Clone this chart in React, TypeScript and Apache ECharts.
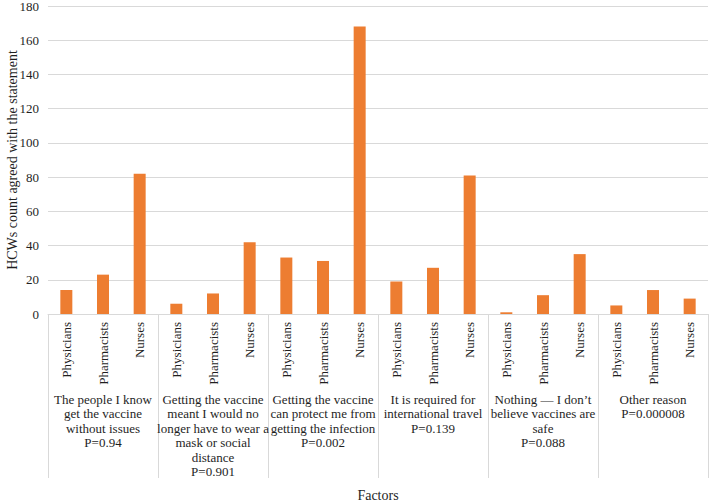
import React, { useEffect, useRef } from "react";
import * as echarts from "echarts";

const roles = ["Physicians", "Pharmacists", "Nurses"];
const groupLabels = [
  "The people I know\nget the vaccine\nwithout issues",
  "Getting the vaccine\nmeant I would no\nlonger have to wear a\nmask or social\ndistance",
  "Getting the vaccine\ncan protect me from\ngetting the infection",
  "It is required for\ninternational travel",
  "Nothing — I don’t\nbelieve vaccines are\nsafe",
  "Other reason",
];
const pValues = ["P=0.94", "P=0.901", "P=0.002", "P=0.139", "P=0.088", "P=0.000008"];
const physicians = [14, 6, 33, 19, 1, 5];
const pharmacists = [23, 12, 31, 27, 11, 14];
const nurses = [82, 42, 168, 81, 35, 9];
const yTicks = { min: 0, max: 180, interval: 20 };

export default function App() {
  const ref = useRef<HTMLDivElement>(null);
  useEffect(() => {
    document.body.style.margin = "0";
    const chart = echarts.init(ref.current!, null, { renderer: "svg" });
    const cats: string[] = [];
    const vals: number[] = [];
    groupLabels.forEach((_, i) => {
      cats.push(...roles);
      vals.push(physicians[i], pharmacists[i], nurses[i]);
    });
    const groupCats = groupLabels.map((g, i) => g + "\n" + pValues[i]);
    const font = "'Liberation Serif', 'Times New Roman', serif";
    const textColor = "#1f1f1f";
    chart.setOption({
      animation: false,
      textStyle: { fontFamily: font },
      grid: {
        left: 48,
        right: 1,
        top: 6,
        bottom: 189,
        containLabel: false,
        outerBoundsMode: "none",
      },
      xAxis: [
        {
          type: "category",
          data: cats,
          position: "bottom",
          axisLine: { show: true, lineStyle: { color: "#d9d9d9", width: 1 } },
          axisTick: { show: false },
          axisLabel: {
            interval: 0,
            rotate: 90,
            margin: 8,
            fontSize: 13,
            color: textColor,
            fontFamily: font,
          },
        },
        {
          type: "category",
          data: groupCats,
          position: "bottom",
          boundaryGap: true,
          axisLine: { show: false },
          axisTick: {
            show: true,
            interval: 0,
            length: 164,
            lineStyle: { color: "#d9d9d9", width: 1 },
          },
          axisLabel: {
            interval: 0,
            margin: 78,
            fontSize: 13,
            lineHeight: 14.5,
            color: textColor,
            fontFamily: font,
            align: "center",
          },
          name: "Factors",
          nameLocation: "middle",
          nameGap: 174,
          nameMoveOverlap: false,
          nameTextStyle: { fontSize: 14, color: textColor, fontFamily: font },
        },
      ],
      yAxis: {
        type: "value",
        min: yTicks.min,
        max: yTicks.max,
        interval: yTicks.interval,
        name: "HCWs count agreed with the statement",
        nameLocation: "middle",
        nameGap: 29,
        nameMoveOverlap: false,
        nameTextStyle: { fontSize: 14, color: textColor, fontFamily: font },
        axisLine: { show: false },
        axisTick: { show: false },
        axisLabel: {
          fontSize: 13,
          color: textColor,
          margin: 9,
          fontFamily: font,
        },
        splitLine: { lineStyle: { color: "#d9d9d9", width: 1 } },
      },
      series: [
        {
          type: "bar",
          data: vals,
          xAxisIndex: 0,
          barWidth: 12,
          itemStyle: { color: "#ED7D31" },
        },
      ],
    });
    return () => chart.dispose();
  }, []);
  return <div ref={ref} style={{ width: 709, height: 503 }} />;
}
